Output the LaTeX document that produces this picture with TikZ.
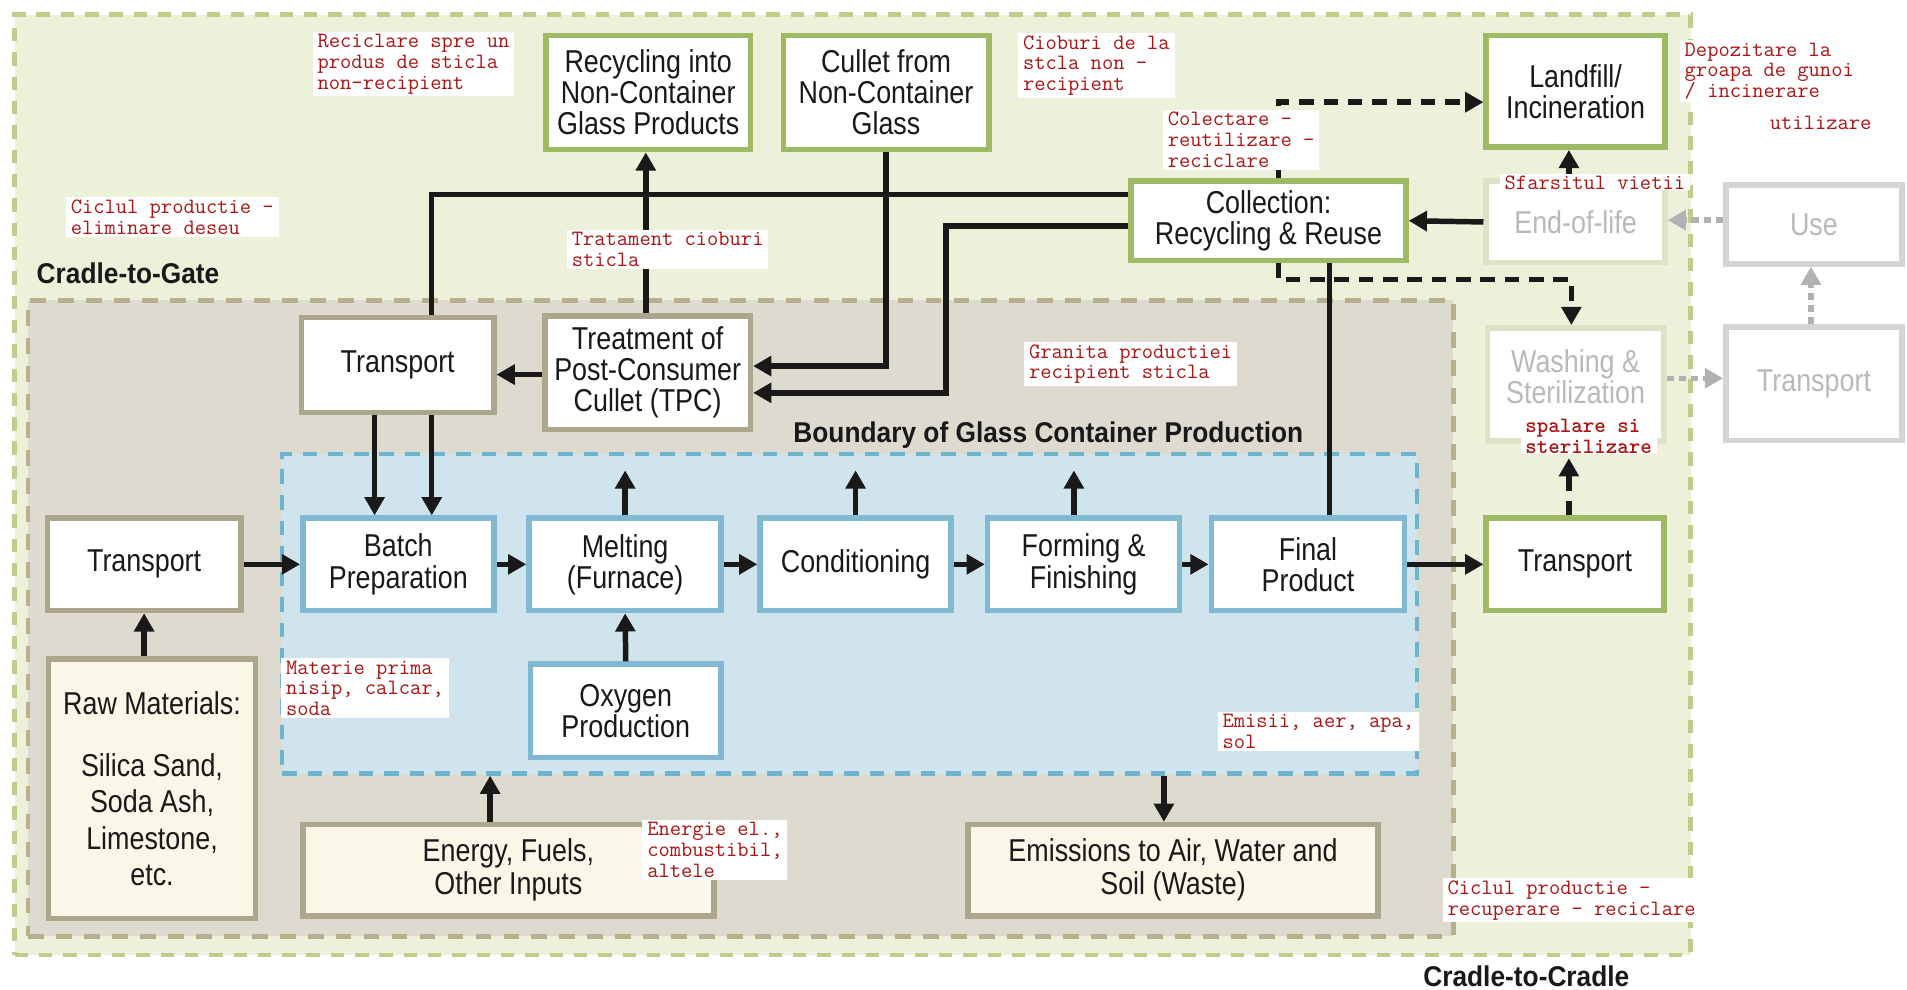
\documentclass[tikz,border=0pt]{standalone}
\usepackage{fontspec}
\usetikzlibrary{arrows.meta}
\newfontfamily\boxfont{Liberation Sans}[FakeStretch=0.85]
\newfontfamily\titlefont{Liberation Sans}[FakeStretch=0.92]
\definecolor{greenbg}{RGB}{237,241,217}
\definecolor{greenline}{RGB}{190,205,140}
\definecolor{graybg}{RGB}{221,219,208}
\definecolor{tanline}{RGB}{184,176,140}
\definecolor{bluebg}{RGB}{208,228,238}
\definecolor{blueline}{RGB}{110,180,205}
\definecolor{boxgreen}{RGB}{160,185,100}
\definecolor{boxtan}{RGB}{172,166,140}
\definecolor{boxblue}{RGB}{130,185,210}
\definecolor{cream}{RGB}{250,247,232}
\definecolor{fadegreen}{RGB}{220,228,200}
\definecolor{fadetext}{RGB}{185,185,185}
\definecolor{grayline}{RGB}{212,212,212}
\definecolor{grayarrow}{RGB}{178,178,178}
\definecolor{labred}{RGB}{170,20,20}
\definecolor{txt}{RGB}{25,25,25}
\begin{document}
\begin{tikzpicture}[x=1pt,y=-1pt,
  box/.style={draw, line width=4.5pt, fill=white, align=center, inner sep=0pt, text=txt,
    font=\boxfont\fontsize{26}{25.5}\selectfont},
  gbox/.style={box, draw=boxgreen},
  tbox/.style={box, draw=boxtan},
  bbox/.style={box, draw=boxblue},
  cbox/.style={box, draw=boxtan, fill=cream},
  fgbox/.style={box, draw=fadegreen, text=fadetext},
  graybox/.style={box, draw=grayline, text=fadetext},
  region/.style={line width=3.5pt, inner sep=0pt},
  lab/.style={fill=white, text=labred, font=\ttfamily\fontsize{18}{17}\selectfont,
    align=left, inner xsep=4pt, inner ysep=2pt, anchor=north west},
  title/.style={font=\titlefont\bfseries\fontsize{23.5}{24}\selectfont, text=txt, inner sep=0pt},
  ln/.style={line width=4.5pt, draw=txt},
  arr/.style={ln, -{Triangle[length=15pt,width=16pt]}},
  darr/.style={arr, dash pattern=on 12pt off 8pt},
  garr/.style={line width=4.5pt, draw=grayarrow, dash pattern=on 6pt off 4pt,
    -{Triangle[length=15pt,width=16pt]}},
]
\fill[white] (0,0) rectangle (1568,814);
\useasboundingbox (0,0) rectangle (1568,814);

% regions
\node[region, draw=greenline, fill=greenbg, dash pattern=on 11pt off 9pt,
  minimum width=1378, minimum height=773] (green) at (701,398.5) {};
\node[region, line width=4pt, draw=tanline, fill=graybg, dash pattern=on 13pt off 10pt,
  minimum width=1172, minimum height=523] (gray) at (609,508.5) {};
\node[region, draw=blueline, fill=bluebg, dash pattern=on 12pt off 9pt,
  minimum width=933, minimum height=263] (blue) at (698.5,504.5) {};

% titles
\node[title, anchor=base west] (ctg) at (30,233) {Cradle-to-Gate};
\node[title, anchor=base] (bgc) at (862,364) {Boundary of Glass Container Production};
\node[title, anchor=base] (ctc) at (1255,811) {Cradle-to-Cradle};

% boxes
\node[gbox, minimum width=168, minimum height=94] (rec) at (533,76) {Recycling into\\Non-Container\\Glass Products};
\node[gbox, minimum width=169, minimum height=94] (cul) at (728.5,76) {Cullet from\\Non-Container\\Glass};
\node[gbox, minimum width=147, minimum height=92] (land) at (1295.5,75) {Landfill/\\Incineration};
\node[gbox, minimum width=226, minimum height=65] (coll) at (1043,181.5) {Collection:\\Recycling \& Reuse};
\node[fgbox, minimum width=147, minimum height=67] (eol) at (1295.5,182.5) {End-of-life};
\node[graybox, minimum width=145, minimum height=65] (use) at (1491.5,184.5) {Use};
\node[fgbox, minimum width=145, minimum height=93, text depth=12pt] (wash) at (1295.5,316) {Washing \&\\Sterilization};
\node[graybox, minimum width=145, minimum height=93] (trg) at (1491.5,315.5) {Transport};
\node[gbox, minimum width=146, minimum height=76] (trR) at (1295,464) {Transport};
\node[tbox, minimum width=158, minimum height=78] (tr2) at (327,300) {Transport};
\node[tbox, minimum width=169, minimum height=93] (tpc) at (532.5,306.5) {Treatment of\\Post-Consumer\\Cullet (TPC)};
\node[tbox, minimum width=159, minimum height=76] (tr1) at (118.5,464) {Transport};
\node[cbox, minimum width=170, minimum height=213, font=\boxfont\fontsize{26}{30}\selectfont] (raw) at (125,648.5)
  {Raw Materials:\\[21pt]Silica Sand,\\Soda Ash,\\Limestone,\\etc.};
\node[cbox, minimum width=338, minimum height=75, font=\boxfont\fontsize{26}{27}\selectfont] (energy) at (418,715.5) {Energy, Fuels,\\Other Inputs};
\node[cbox, minimum width=337, minimum height=75, font=\boxfont\fontsize{26}{27}\selectfont] (emis) at (964.5,715.5) {Emissions to Air, Water and\\Soil (Waste)};
\node[bbox, minimum width=157, minimum height=76] (batch) at (327.5,464) {Batch\\Preparation};
\node[bbox, minimum width=158, minimum height=76] (melt) at (514,464) {Melting\\(Furnace)};
\node[bbox, minimum width=157, minimum height=76] (cond) at (703.5,464) {Conditioning};
\node[bbox, minimum width=158, minimum height=76] (form) at (891,464) {Forming \&\\Finishing};
\node[bbox, minimum width=159, minimum height=76] (final) at (1075.5,464) {Final\\Product};
\node[bbox, minimum width=157, minimum height=77] (oxy) at (514.5,584.5) {Oxygen\\Production};

% production chain
\draw[arr] (tr1.east) -- (batch.west);
\draw[arr] (tr1.south |- raw.north) -- (tr1.south);
\draw[arr] (batch.east) -- (melt.west);
\draw[arr] (melt.east) -- (cond.west);
\draw[arr] (cond.east) -- (form.west);
\draw[arr] (form.east) -- (final.west);
\draw[arr] (final.east) -- (trR.west);
\draw[arr] (oxy.north) -- (melt.south);
\draw[arr] (melt.north) -- ++(0,-37);
\draw[arr] (cond.north) -- ++(0,-37);
\draw[arr] (form.north -| 883,0) -- ++(0,-37);
\draw[arr] (energy.north -| 403,0) -- (blue.south -| 403,0);
\draw[arr] (blue.south -| 957,0) -- (emis.north -| 957,0);

% recycling loop
\draw[arr] (tr2.south -| 308,0) -- (batch.north -| 308,0);
\draw[arr] (tr2.south -| 355,0) -- (batch.north -| 355,0);
\draw[arr] (tpc.west |- 0,308) -- (tr2.east |- 0,308);
\draw[arr] (tpc.north -| 531,0) -- (rec.south -| 531,0);
\draw[ln] (coll.west |- 0,160) -| (tr2.north -| 355,0);
\draw[arr] (cul.south) |- (tpc.east |- 0,301);
\draw[arr] (coll.west |- 0,186) -| (778,323) -- (tpc.east |- 0,323);
\draw[ln] (final.north -| 1093,0) -- (coll.south -| 1093,0);
\draw[arr] (eol.west) -- (coll.east);
\draw[arr] (eol.north -| 1290,0) -- (land.south -| 1290,0);
\draw[darr] (coll.north -| 1051,0) |- (land.west |- 0,84);
\draw[darr] (coll.south -| 1051,0) -- (1051,230) -| (wash.north -| 1292,0);
\draw[darr] (trR.north -| 1290,0) -- ++(0,-47);
\draw[garr] (wash.east |- 0,311) -- (trg.west |- 0,311);
\draw[garr] (trg.north -| 1489,0) -- (use.south -| 1489,0);
\draw[garr] (use.west |- 0,181) -- (eol.east |- 0,181);

% annotations
\node[lab] (l1) at (257,26) {Reciclare spre un\\produs de sticla\\non-recipient};
\node[lab] (l2) at (54,162) {Ciclul productie -\\eliminare deseu};
\node[lab] (l3) at (466,189) {Tratament cioburi\\sticla};
\node[lab] (l4) at (837,27) {Cioburi de la\\stcla non -\\recipient};
\node[lab] (l5) at (956,90) {Colectare -\\reutilizare -\\reciclare};
\node[lab] (l6) at (1381,33) {Depozitare la\\groapa de gunoi\\/ incinerare};
\node[lab, anchor=center] (l7) at (1497,101) {utilizare};
\node[lab, inner ysep=1pt] (l8) at (1233,143) {Sfarsitul vietii};
\node[lab] (l9) at (842,281) {Granita productiei\\recipient sticla};
\node[lab, inner ysep=0.5pt, font=\ttfamily\bfseries\fontsize{18}{17}\selectfont] (l10) at (1250,344) {spalare si\\sterilizare};
\node[lab] (l11) at (231,541) {Materie prima\\nisip, calcar,\\soda};
\node[lab] (l12) at (528,674) {Energie el.,\\combustibil,\\altele};
\node[lab] (l13) at (1001,585) {Emisii, aer, apa,\\sol};
\node[lab] (l14) at (1186,722) {Ciclul productie -\\recuperare - reciclare};
\end{tikzpicture}
\end{document}
